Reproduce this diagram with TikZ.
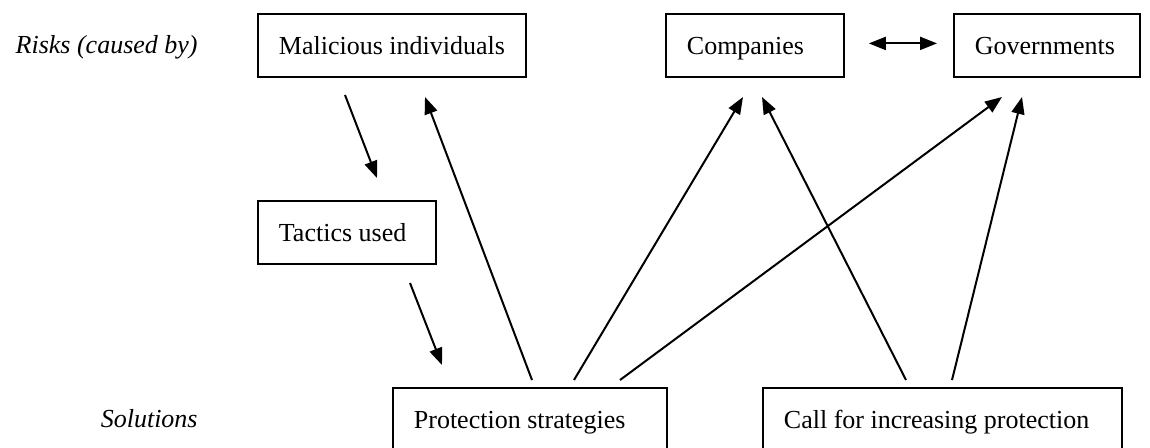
\documentclass[tikz,border=0pt]{standalone}
\usepackage{fontspec}
\setmainfont{Liberation Serif}
\usetikzlibrary{arrows.meta}
\begin{document}
\begin{tikzpicture}[x=0.5pt,y=-0.5pt,
  box/.style={draw, line width=0.9pt, inner xsep=10.5pt, inner ysep=0pt,
    minimum height=31.5pt, text height=8.6pt, text depth=0pt, anchor=north west},
  lbl/.style={inner sep=0pt, anchor=base east, font=\itshape},
  arr/.style={line width=1pt, -{Triangle[length=8.5pt,width=6.5pt]}},
  darr/.style={line width=1pt, {Triangle[length=8.5pt,width=6.5pt]}-{Triangle[length=8.5pt,width=6.5pt]}}]
\fontsize{13}{15.6}\selectfont
\useasboundingbox (0,0) rectangle (1150,447);
% labels
\node[lbl] (risks) at (198,53) {Risks (caused by)};
\node[lbl] (sol) at (198,427) {Solutions};
% boxes
\node[box, minimum width=134pt] (mal) at (257,13) {\makebox[113pt][l]{Malicious individuals}};
\node[box, minimum width=89pt] (comp) at (665,13) {\makebox[68pt][l]{Companies}};
\node[box, minimum width=93pt] (gov) at (953,13) {\makebox[72pt][l]{Governments}};
\node[box, minimum width=89pt] (tac) at (257,200) {\makebox[68pt][l]{Tactics used}};
\node[box, minimum width=137pt] (prot) at (392,387) {\makebox[116pt][l]{Protection strategies}};
\node[box, minimum width=179.5pt] (call) at (762,387) {\makebox[158.5pt][l]{Call for increasing protection}};
% connector ends
\coordinate (m1) at (345,95);
\coordinate (t1) at (377,178);
\coordinate (t2) at (410,283);
\coordinate (p1) at (442,365);
\coordinate (pa) at (532,380);
\coordinate (pb) at (574,380);
\coordinate (pc) at (620,380);
\coordinate (ca) at (906,380);
\coordinate (cb) at (952,380);
\coordinate (mt) at (425,97);
\coordinate (ct1) at (743,97);
\coordinate (ct2) at (762,97);
\coordinate (gt1) at (1002,97);
\coordinate (gt2) at (1022,97);
% connectors
\draw[arr] (m1) -- (t1);
\draw[arr] (t2) -- (p1);
\draw[arr] (pa) -- (mt);
\draw[arr] (pb) -- (ct1);
\draw[arr] (pc) -- (gt1);
\draw[arr] (ca) -- (ct2);
\draw[arr] (cb) -- (gt2);
\draw[darr] ([xshift=12pt,yshift=1pt]comp.east) -- ([xshift=-8pt,yshift=1pt]gov.west);
\end{tikzpicture}
\end{document}
